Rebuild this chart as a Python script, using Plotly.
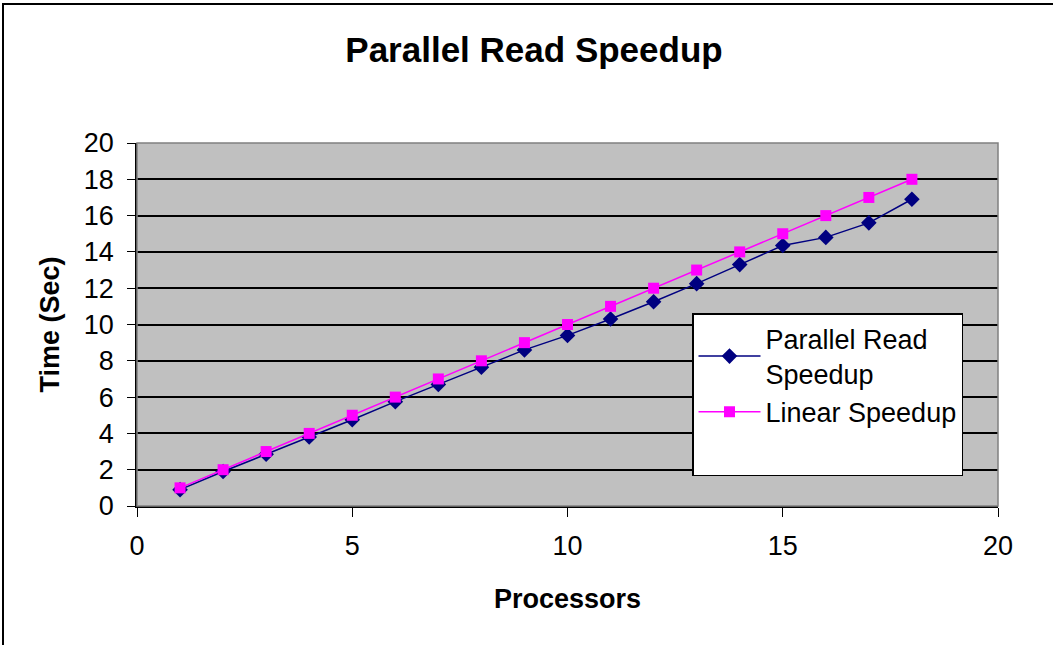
import plotly.graph_objects as go

processors = list(range(1, 19))
parallel_read = [0.9, 1.9, 2.85, 3.8, 4.75, 5.75, 6.7, 7.65, 8.6, 9.4, 10.3, 11.25, 12.25, 13.3, 14.35, 14.8, 15.6, 16.9]
linear = [1, 2, 3, 4, 5, 6, 7, 8, 9, 10, 11, 12, 13, 14, 15, 16, 17, 18]

FONT = "Liberation Sans, Arial, sans-serif"

fig = go.Figure()
fig.add_trace(go.Scatter(
    x=processors, y=parallel_read, mode="lines+markers",
    name="Parallel Read<br>Speedup",
    line=dict(color="#000080", width=1.5),
    marker=dict(symbol="diamond", size=12, color="#000080"),
))
fig.add_trace(go.Scatter(
    x=processors, y=linear, mode="lines+markers",
    name="Linear Speedup",
    line=dict(color="#FF00FF", width=1.5),
    marker=dict(symbol="square", size=11, color="#FF00FF"),
))
# blank legend row to reproduce the empty space at the bottom of the legend box
fig.add_trace(go.Scatter(
    x=[None], y=[None], mode="lines", name=" ",
    line=dict(color="rgba(0,0,0,0)", width=0), hoverinfo="skip",
))

fig.update_layout(
    width=1053, height=645,
    margin=dict(l=137, r=55, t=143, b=139),
    paper_bgcolor="white",
    plot_bgcolor="#C0C0C0",
    font=dict(family=FONT, color="black", size=26),
    title=dict(text="<b>Parallel Read Speedup</b>", x=(534 - 137) / 861, xanchor="center",
               xref="paper", yref="container",
               y=1 - 50 / 645, yanchor="middle", font=dict(size=35, family=FONT)),
    showlegend=True,
    legend=dict(x=(692 - 137) / 861, y=(506 - 313) / 363, xanchor="left", yanchor="top",
                bgcolor="white", bordercolor="black", borderwidth=1.5,
                font=dict(size=27, family=FONT), itemwidth=62),
    xaxis=dict(range=[0, 20], dtick=5, tick0=0, showgrid=False, zeroline=False,
               showline=True, linecolor="black", linewidth=1.5,
               ticks="outside", ticklen=9, tickcolor="black", ticklabelstandoff=6,
               tickfont=dict(size=27, family=FONT),
               title=dict(text="<b>Processors</b>", font=dict(size=27, family=FONT), standoff=29)),
    yaxis=dict(range=[0, 20], dtick=2, tick0=0, showgrid=True, gridcolor="black",
               gridwidth=1.5, zeroline=False,
               showline=True, linecolor="black", linewidth=1.5,
               ticks="outside", ticklen=8, tickcolor="black", ticklabelstandoff=8,
               tickfont=dict(size=27, family=FONT),
               title=dict(text="<b>Time (Sec)</b>", font=dict(size=27, family=FONT), standoff=16)),
    shapes=[
        dict(type="rect", xref="paper", yref="paper", x0=0, x1=1, y0=0, y1=1,
             line=dict(color="#808080", width=1.5), layer="above"),
        dict(type="rect", xref="paper", yref="paper",
             x0=-134 / 861, x1=(1060 - 137) / 861, y0=-(650 - 506) / 363, y1=(506 - 4) / 363,
             line=dict(color="black", width=2), fillcolor="rgba(0,0,0,0)", layer="above"),
    ],
)

fig.write_html("out.html")
